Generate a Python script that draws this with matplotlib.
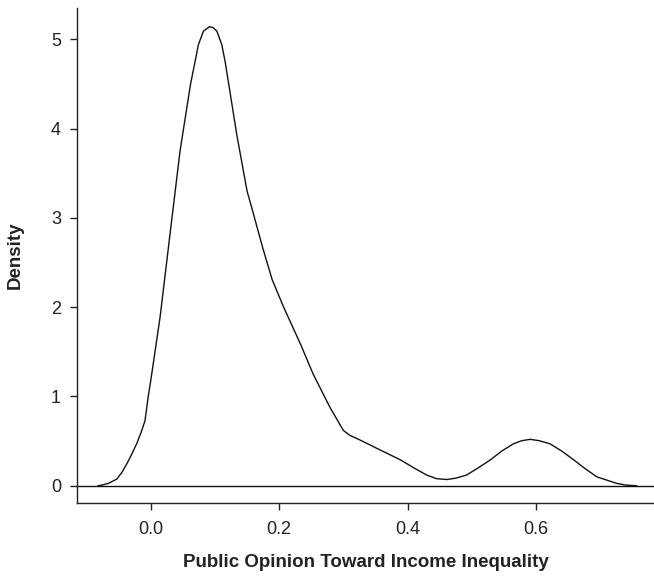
import matplotlib
matplotlib.use("Agg")
import matplotlib.pyplot as plt

plt.rcParams["font.family"] = ["Liberation Sans", "DejaVu Sans"]

# densidad (x, densidad)
opinion = [-0.082, -0.075, -0.065, -0.053, -0.045, -0.037, -0.030, -0.022, -0.015,
           -0.009, -0.004, 0.000, 0.0145, 0.030, 0.0456, 0.062, 0.069, 0.0742,
           0.082, 0.0913, 0.097, 0.103, 0.1106, 0.1158, 0.1225, 0.134, 0.150,
           0.157, 0.170, 0.175, 0.189, 0.207, 0.233, 0.253, 0.279, 0.300, 0.310,
           0.321, 0.352, 0.389, 0.410, 0.430, 0.445, 0.461, 0.475, 0.492, 0.510,
           0.529, 0.547, 0.565, 0.578, 0.591, 0.605, 0.622, 0.640, 0.659, 0.677,
           0.695, 0.726, 0.740, 0.757]
densidad = [0.0, 0.01, 0.03, 0.075, 0.15, 0.25, 0.35, 0.47, 0.60,
            0.73, 1.0, 1.18, 1.89, 2.82, 3.75, 4.50, 4.75, 4.94,
            5.09, 5.14, 5.13, 5.09, 4.94, 4.75, 4.45, 3.93, 3.30,
            3.12, 2.78, 2.65, 2.31, 2.0, 1.59, 1.25, 0.88, 0.62, 0.565,
            0.53, 0.42, 0.29, 0.20, 0.12, 0.08, 0.07, 0.085, 0.12, 0.20,
            0.29, 0.39, 0.47, 0.505, 0.52, 0.505, 0.47, 0.39, 0.29, 0.19,
            0.10, 0.027, 0.008, 0.0]

x_ticks = [0.0, 0.2, 0.4, 0.6]
x_labels = ["0.0", "0.2", "0.4", "0.6"]
y_ticks = [0, 1, 2, 3, 4, 5]

fig = plt.figure(figsize=(6.54, 5.82), dpi=100)
ax = fig.add_axes([0.1177, 0.1357, 0.8823, 0.8506])

ax.plot(opinion, densidad, color="#111111", lw=1.0)
ax.axhline(0, color="#111111", lw=1.0)

ax.set_xlim(-0.115, 0.784)
ax.set_ylim(-0.193, 5.35)

ax.spines["top"].set_visible(False)
ax.spines["right"].set_visible(False)
for s in ["left", "bottom"]:
    ax.spines[s].set_color("#222222")
    ax.spines[s].set_linewidth(1.0)

ax.set_xticks(x_ticks)
ax.set_xticklabels(x_labels)
ax.set_yticks(y_ticks)
ax.tick_params(axis="both", length=5, width=1.0, color="#222222",
               labelsize=13, labelcolor="#222222")
ax.tick_params(axis="x", pad=8)
ax.tick_params(axis="y", pad=6.5)

ax.set_xlabel("Public Opinion Toward Income Inequality", fontsize=13.5,
              fontweight="bold", color="#222222")
ax.set_ylabel("Density", fontsize=13.5, fontweight="bold", color="#222222")
ax.xaxis.set_label_coords(0.5, -0.103)
ax.yaxis.set_label_coords(-0.092, 0.5)

fig.savefig("out.png", dpi=100)
